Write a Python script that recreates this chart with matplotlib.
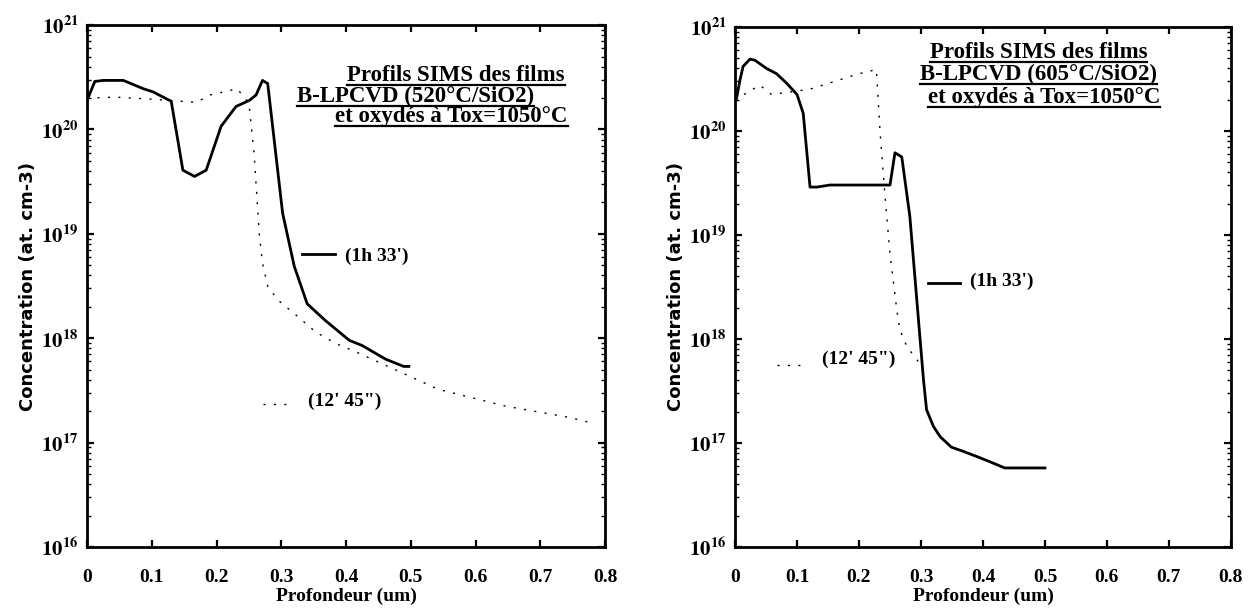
import matplotlib
matplotlib.use('Agg')
import matplotlib.pyplot as plt
from matplotlib.ticker import LogLocator, FixedLocator, NullFormatter

plt.rcParams['mathtext.fontset'] = 'stix'

# ---- left panel: B-LPCVD 520C ----
left_solid_x = [0.002, 0.012, 0.025, 0.056, 0.087, 0.102, 0.130, 0.148, 0.166, 0.184,
                0.207, 0.230, 0.251, 0.261, 0.271, 0.279, 0.302, 0.320, 0.340, 0.368,
                0.405, 0.425, 0.461, 0.489, 0.497]
left_solid_log = [20.31, 20.46, 20.47, 20.47, 20.39, 20.36, 20.27, 19.61, 19.55, 19.61,
                  20.03, 20.22, 20.28, 20.33, 20.47, 20.44, 19.20, 18.69, 18.33, 18.17,
                  17.98, 17.93, 17.80, 17.73, 17.73]

left_dot_x = [0.0, 0.043, 0.10, 0.169, 0.190, 0.232, 0.250, 0.258, 0.266, 0.271,
              0.279, 0.294, 0.325, 0.353, 0.384, 0.415, 0.543, 0.646, 0.746, 0.778]
left_dot_log = [20.30, 20.31, 20.29, 20.26, 20.33, 20.39, 20.25, 19.77, 19.00, 18.72,
                18.50, 18.37, 18.21, 18.06, 17.95, 17.87, 17.51, 17.35, 17.24, 17.19]

# ---- right panel: B-LPCVD 605C ----
right_solid_x = [0.002, 0.008, 0.013, 0.024, 0.032, 0.051, 0.067, 0.083, 0.100, 0.110,
                 0.121, 0.132, 0.153, 0.207, 0.250, 0.258, 0.269, 0.282, 0.296, 0.304,
                 0.309, 0.320, 0.331, 0.349, 0.368, 0.390, 0.411, 0.435, 0.500]
right_solid_log = [20.30, 20.49, 20.62, 20.69, 20.68, 20.60, 20.55, 20.46, 20.35, 20.17,
                   19.46, 19.46, 19.48, 19.48, 19.48, 19.79, 19.75, 19.18, 18.18, 17.61,
                   17.32, 17.16, 17.06, 16.96, 16.92, 16.87, 16.82, 16.76, 16.76]

right_dot_x = [0.0, 0.040, 0.059, 0.12, 0.20, 0.228, 0.234, 0.242, 0.250, 0.261,
               0.266, 0.277, 0.296]
right_dot_log = [20.30, 20.44, 20.35, 20.40, 20.55, 20.59, 19.99, 19.37, 18.82, 18.28,
                 18.09, 17.93, 17.78]

titles = [["Profils SIMS des films", "B-LPCVD (520°C/SiO2)", "et oxydés à Tox=1050°C"],
          ["Profils SIMS des films", "B-LPCVD (605°C/SiO2)", "et oxydés à Tox=1050°C"]]

x_ticks = [0, 0.1, 0.2, 0.3, 0.4, 0.5, 0.6, 0.7, 0.8]
x_labels = ['0', '0.1', '0.2', '0.3', '0.4', '0.5', '0.6', '0.7', '0.8']
y_ticks = [1e16, 1e17, 1e18, 1e19, 1e20, 1e21]
y_labels = [r'$\mathbf{10^{%d}}$' % e for e in range(16, 22)]

serif = 'Liberation Serif'
dots = (0, (1.5, 6))

fig = plt.figure(figsize=(12.49, 6.09), dpi=100)
ax1 = fig.add_axes([0.0697, 0.1018, 0.4147, 0.857])
ax2 = fig.add_axes([0.5885, 0.1018, 0.397, 0.854])


def style(ax):
    ax.set_yscale('log')
    ax.set_xlim(0, 0.8)
    ax.set_ylim(1e16, 1e21)
    ax.xaxis.set_major_locator(FixedLocator(x_ticks))
    ax.set_xticklabels(x_labels, fontfamily=serif, fontweight='bold', fontsize=14)
    ax.yaxis.set_major_locator(FixedLocator(y_ticks))
    ax.set_yticklabels(y_labels, fontsize=15)
    ax.yaxis.set_minor_locator(LogLocator(base=10, subs=range(2, 10)))
    ax.yaxis.set_minor_formatter(NullFormatter())
    ax.tick_params(which='both', direction='in', top=True, right=True, color='black')
    ax.tick_params(which='major', length=5, width=1.6)
    ax.tick_params(which='minor', length=3, width=1.0)
    ax.tick_params(axis='x', which='major', pad=16)
    ax.tick_params(axis='y', which='major', pad=6)
    for s in ax.spines.values():
        s.set_linewidth(2.0)
    ax.set_xlabel('Profondeur (um)', fontfamily=serif, fontweight='bold', fontsize=14, labelpad=1)
    ax.set_ylabel('Concentration (at. cm-3)', fontfamily='DejaVu Sans', fontweight='bold',
                  fontsize=13, labelpad=3)


for ax in (ax1, ax2):
    style(ax)

ax1.plot(left_solid_x, [10 ** v for v in left_solid_log], color='black', lw=2.0)
ax1.plot(left_dot_x, [10 ** v for v in left_dot_log], color='black', lw=1.0, ls=dots)
ax2.plot(right_solid_x, [10 ** v for v in right_solid_log], color='black', lw=2.0)
ax2.plot(right_dot_x, [10 ** v for v in right_dot_log], color='black', lw=1.0, ls=dots)

# legend-like annotations (axes fraction coordinates)
ax1.plot([0.415, 0.479], [0.561, 0.561], transform=ax1.transAxes, color='black', lw=2.0)
ax1.text(0.498, 0.556, "(1h 33')", transform=ax1.transAxes, va='center',
         fontfamily=serif, fontweight='bold', fontsize=14)
ax1.plot([0.340, 0.392], [0.274, 0.274], transform=ax1.transAxes, color='black', lw=1.0,
         ls=dots)
ax1.text(0.427, 0.28, "(12' 45\")", transform=ax1.transAxes, va='center',
         fontfamily=serif, fontweight='bold', fontsize=14)

ax2.plot([0.389, 0.454], [0.508, 0.508], transform=ax2.transAxes, color='black', lw=2.0)
ax2.text(0.474, 0.51, "(1h 33')", transform=ax2.transAxes, va='center',
         fontfamily=serif, fontweight='bold', fontsize=14)
ax2.plot([0.085, 0.135], [0.35, 0.35], transform=ax2.transAxes, color='black', lw=1.0,
         ls=dots)
ax2.text(0.175, 0.36, "(12' 45\")", transform=ax2.transAxes, va='center',
         fontfamily=serif, fontweight='bold', fontsize=14)

# underlined title blocks
for ax, lines, xs, ys in [(ax1, titles[0], [0.502, 0.405, 0.479], [0.904, 0.864, 0.824]),
                          (ax2, titles[1], [0.393, 0.373, 0.389], [0.950, 0.908, 0.864])]:
    for line, x, y in zip(lines, xs, ys):
        ax.text(x, y, line, transform=ax.transAxes, va='center', ha='left',
                fontfamily=serif, fontweight='bold', fontsize=16.5)
    fig.canvas.draw()
    r = fig.canvas.get_renderer()
    for txt in ax.texts[-3:]:
        bb = txt.get_window_extent(r).transformed(ax.transAxes.inverted())
        ax.plot([bb.x0, bb.x1], [bb.y0 + 0.002, bb.y0 + 0.002], transform=ax.transAxes,
                color='black', lw=1.6)

fig.savefig('out.png', dpi=100)
